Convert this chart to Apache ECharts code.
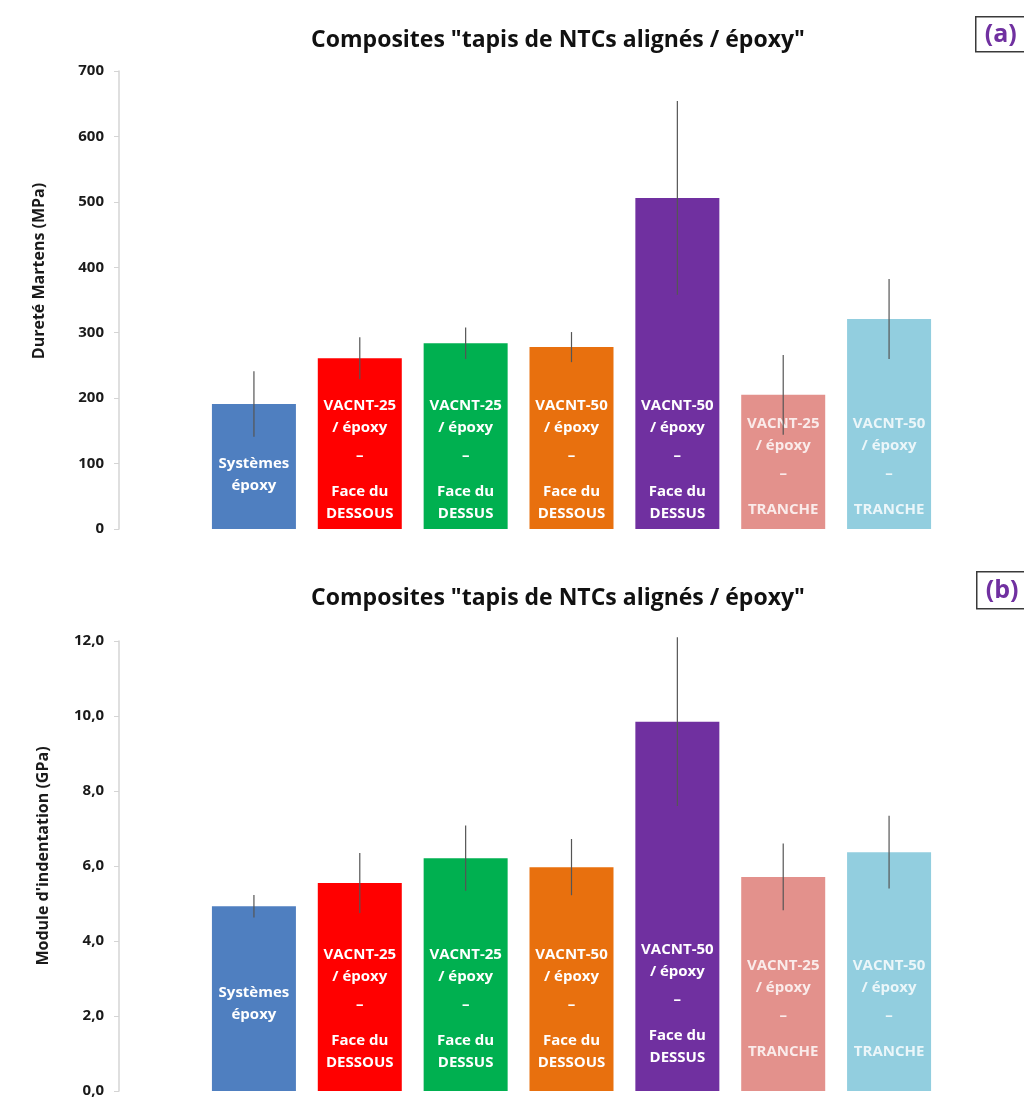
<!DOCTYPE html>
<html>
<head>
<meta charset="utf-8">
<script src="https://cdn.jsdelivr.net/npm/echarts@6/dist/echarts.min.js"></script>
<style>
html,body{margin:0;padding:0;background:#fff;}
#chart{width:1024px;height:1113px;}
</style>
</head>
<body>
<div id="chart"></div>
<script>
// ---- data ----
const categories = [
  ['Systèmes', 'époxy'],
  ['VACNT-25', '/ époxy', '–', 'Face du', 'DESSOUS'],
  ['VACNT-25', '/ époxy', '–', 'Face du', 'DESSUS'],
  ['VACNT-50', '/ époxy', '–', 'Face du', 'DESSOUS'],
  ['VACNT-50', '/ époxy', '–', 'Face du', 'DESSUS'],
  ['VACNT-25', '/ époxy', '–', 'TRANCHE'],
  ['VACNT-50', '/ époxy', '–', 'TRANCHE']
];
const hardness    = [191, 261, 284, 278, 506, 205, 321];
const hardnessErr = [50, 32, 24, 23, 148, 61, 61];
const modulus     = [4.93, 5.55, 6.21, 5.97, 9.85, 5.71, 6.37];
const modulusErr  = [0.30, 0.80, 0.87, 0.75, 2.25, 0.89, 0.97];
const hardnessTicks = ['0', '100', '200', '300', '400', '500', '600', '700'];
const modulusTicks  = ['0,0', '2,0', '4,0', '6,0', '8,0', '10,0', '12,0'];
const titleText = 'Composites "tapis de NTCs alignés / époxy"';
const yNames = ['Dureté Martens (MPa)', "Module d'indentation (GPa)"];

// ---- styles ----
const barColors = ['#4F7FC0', '#FF0000', '#00B050', '#E8700E', '#7030A0', '#E3918C', '#92CEDF'];
const labelColors = ['#fff', '#fff', '#fff', '#fff', '#fff', 'rgba(255,255,255,0.82)', 'rgba(255,255,255,0.82)'];
const labelDistTop = [8, 4, 4, 4, 4, 8, 8];
const labelDistBot = [5, 17, 17, 17, 22, 28, 28];
const FONT = '"Open Sans", "Noto Sans", sans-serif';

function richText(lines) {
  if (lines.length <= 2) return lines.map(l => '{a|' + l + '}').join('\n');
  const out = [];
  lines.forEach((l, i) => {
    if (l === '–') { out.push('{d|–}'); if (i < lines.length - 1) out.push('{s| }'); }
    else out.push('{a|' + l + '}');
  });
  return out.join('\n');
}
const rich = {
  a: {fontFamily: FONT, fontWeight: 'bold', fontSize: 15, lineHeight: 22},
  d: {fontFamily: FONT, fontWeight: 'bold', fontSize: 15, lineHeight: 34},
  s: {fontSize: 1, lineHeight: 8}
};

function barData(values, dists) {
  return values.map((v, i) => {
    const two = categories[i].length <= 2;
    return {
      value: v,
      itemStyle: {color: barColors[i]},
      label: two ? {position: 'inside', offset: [0, dists[i]], color: labelColors[i]}
                 : {position: 'insideBottom', distance: dists[i], color: labelColors[i]}
    };
  });
}

function errSeries(xi, yi, values, errs) {
  return {
    type: 'custom',
    xAxisIndex: xi, yAxisIndex: yi,
    z: 10,
    data: values.map((v, i) => [i, v - errs[i], v + errs[i]]),
    renderItem: function (params, api) {
      const lo = api.coord([api.value(0), api.value(1)]);
      const hi = api.coord([api.value(0), api.value(2)]);
      return {
        type: 'line',
        shape: {x1: lo[0], y1: lo[1], x2: hi[0], y2: hi[1]},
        style: {stroke: '#555', lineWidth: 1.2}
      };
    }
  };
}

function yAxis(gi, max, interval, ticks, name, nameGap, namePad) {
  return {
    type: 'value', gridIndex: gi, min: 0, max: max, interval: interval,
    offset: 82,
    axisLine: {show: true, lineStyle: {color: '#d4d4d4', width: 1.5}},
    axisTick: {show: true, length: 5, lineStyle: {color: '#d4d4d4'}},
    splitLine: {show: false},
    axisLabel: {
      color: '#1a1a1a', fontFamily: FONT, fontWeight: 'bold', fontSize: 15, margin: 15,
      formatter: function (v) { return ticks[Math.round(v / interval)]; }
    },
    name: name, nameLocation: 'middle', nameRotate: 90, nameGap: nameGap,
    nameTextStyle: {color: '#1a1a1a', fontFamily: FONT, fontWeight: 'bold', fontSize: 16, padding: namePad}
  };
}

const chart = echarts.init(document.getElementById('chart'), null, {renderer: 'canvas'});
const catIdx = categories.map((c, i) => String(i));
const xCommon = {
  type: 'category', data: catIdx,
  axisLine: {show: false}, axisTick: {show: false}, axisLabel: {show: false}
};

chart.setOption({
  backgroundColor: '#ffffff',
  animation: false,
  title: [
    {text: titleText, left: 553, top: 24, textAlign: 'center',
     textStyle: {fontFamily: FONT, fontWeight: 'bold', fontSize: 23, color: '#111'}},
    {text: titleText, left: 553, top: 582, textAlign: 'center',
     textStyle: {fontFamily: FONT, fontWeight: 'bold', fontSize: 23, color: '#111'}}
  ],
  grid: [
    {left: 201, right: 82, top: 71, height: 458},
    {left: 201, right: 82, top: 641, height: 450}
  ],
  xAxis: [Object.assign({gridIndex: 0}, xCommon), Object.assign({gridIndex: 1}, xCommon)],
  yAxis: [
    yAxis(0, 700, 100, hardnessTicks, yNames[0], 72, [0, 0, 0, 58]),
    yAxis(1, 12, 2, modulusTicks, yNames[1], 68, [0, 0, 0, 20])
  ],
  series: [
    {
      type: 'bar', xAxisIndex: 0, yAxisIndex: 0, barWidth: 84,
      data: barData(hardness, labelDistTop),
      label: {show: true, formatter: p => richText(categories[p.dataIndex]), rich: rich, align: 'center'}
    },
    errSeries(0, 0, hardness, hardnessErr),
    {
      type: 'bar', xAxisIndex: 1, yAxisIndex: 1, barWidth: 84,
      data: barData(modulus, labelDistBot),
      label: {show: true, formatter: p => richText(categories[p.dataIndex]), rich: rich, align: 'center'}
    },
    errSeries(1, 1, modulus, modulusErr)
  ],
  graphic: [
    {type: 'group', left: 975, top: 16, children: [
      {type: 'rect', shape: {x: 0, y: 0, width: 60, height: 35}, style: {fill: '#fff', stroke: '#3a3a3a', lineWidth: 1.5}},
      {type: 'text', x: 9, y: 18, style: {text: '(a)', fill: '#7030A0', font: 'bold 25px "Open Sans", sans-serif', textVerticalAlign: 'middle'}}
    ]},
    {type: 'group', left: 976, top: 571, children: [
      {type: 'rect', shape: {x: 0, y: 0, width: 60, height: 37}, style: {fill: '#fff', stroke: '#3a3a3a', lineWidth: 1.5}},
      {type: 'text', x: 9, y: 19, style: {text: '(b)', fill: '#7030A0', font: 'bold 25px "Open Sans", sans-serif', textVerticalAlign: 'middle'}}
    ]}
  ]
});
</script>
</body>
</html>
